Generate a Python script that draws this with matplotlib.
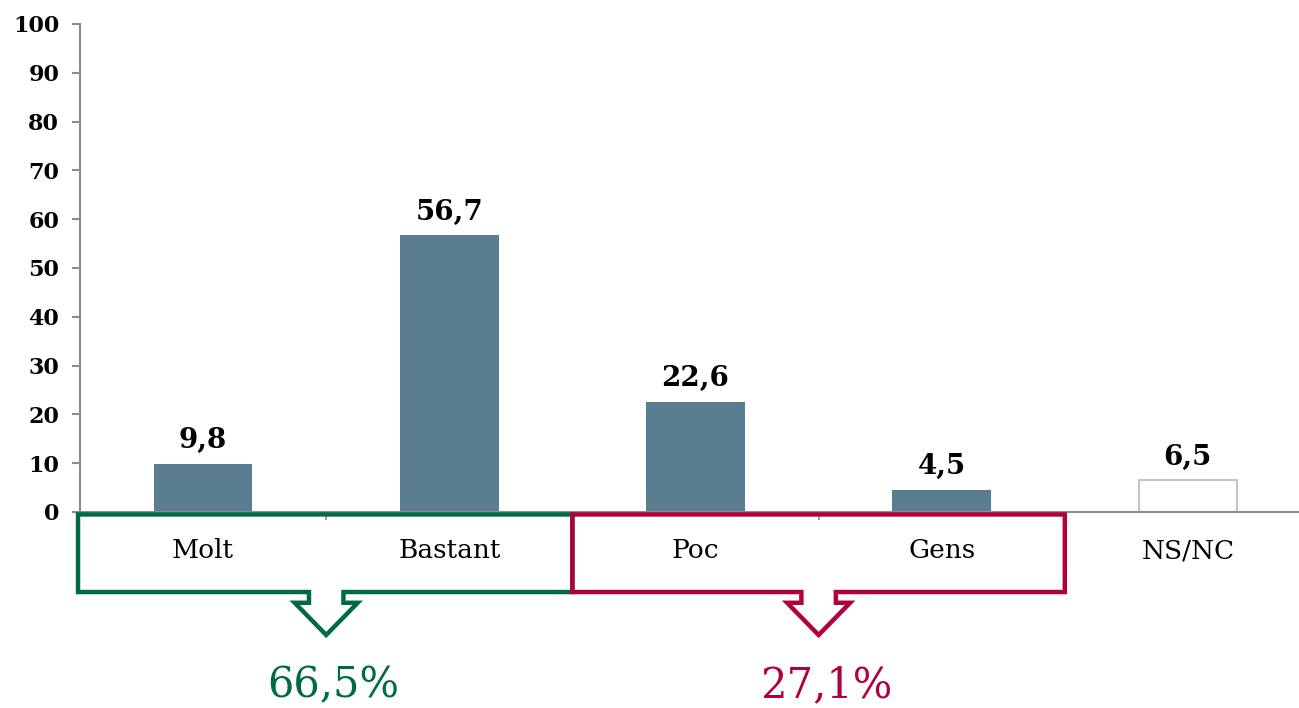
import matplotlib
matplotlib.use("Agg")
import matplotlib.pyplot as plt
from matplotlib.patches import Polygon
from matplotlib.transforms import blended_transform_factory

categories = ["Molt", "Bastant", "Poc", "Gens", "NS/NC"]
values = [9.8, 56.7, 22.6, 4.5, 6.5]
value_labels = ["9,8", "56,7", "22,6", "4,5", "6,5"]
group_labels = ["66,5%", "27,1%"]
yticks = [0, 10, 20, 30, 40, 50, 60, 70, 80, 90, 100]

BAR = "#5b7d91"
GREEN = "#006a48"
RED = "#b0003e"
GRAY = "#8c8c8c"

plt.rcParams['font.family'] = ['DejaVu Serif']

W, H = 1299, 708
fig = plt.figure(figsize=(W / 100, H / 100), dpi=100)
left, right, bottom, top = 80, 1311, 512, 24
ax = fig.add_axes([left / W, (H - bottom) / H, (right - left) / W, (bottom - top) / H])

x = list(range(len(categories)))
for i, v in enumerate(values):
    if categories[i] == "NS/NC":
        ax.bar(i, v, width=0.4, color="white", edgecolor="#c4c4c4", linewidth=1.5, zorder=2)
    else:
        ax.bar(i, v, width=0.4, color=BAR, zorder=2)
    ax.annotate(value_labels[i], (i, v), xytext=(0, 7), textcoords="offset points",
                ha="center", va="bottom", fontsize=20, fontweight="bold")

ax.set_xlim(-0.5, len(categories) - 0.5)
ax.set_ylim(0, 100)
ax.set_yticks(yticks)
ax.set_yticklabels([str(t) for t in yticks], fontsize=16, fontweight="bold")
ax.tick_params(axis="y", length=6, color=GRAY, width=1.5, pad=9)

ax.set_xticks(x)
ax.set_xticklabels(categories, fontsize=19)
ax.tick_params(axis="x", which="major", length=0, pad=19)
ax.set_xticks([0.5, 1.5, 2.5, 3.5], minor=True)
ax.tick_params(axis="x", which="minor", length=6, color=GRAY, width=1.2)

for s in ["top", "right"]:
    ax.spines[s].set_visible(False)
for s in ["left", "bottom"]:
    ax.spines[s].set_color(GRAY)
    ax.spines[s].set_linewidth(1.5)

tr = blended_transform_factory(ax.transData, ax.transAxes)

def bracket(x0, x1, xc, color, label):
    yt, yb, yn, ytip = -0.005, -0.164, -0.186, -0.252
    sw, hw = 0.07, 0.128
    pts = [(x0, yt), (x1, yt), (x1, yb), (xc + sw, yb), (xc + sw, yn), (xc + hw, yn),
           (xc, ytip), (xc - hw, yn), (xc - sw, yn), (xc - sw, yb), (x0, yb)]
    poly = Polygon(pts, closed=True, fill=False, edgecolor=color, linewidth=3.2,
                   transform=tr, clip_on=False, joinstyle="miter", zorder=5)
    ax.add_patch(poly)
    ax.text(xc + 0.03, -0.355, label, transform=tr, ha="center", va="center",
            fontsize=30, color=color)

bracket(-0.508, 1.5, 0.5, GREEN, group_labels[0])
bracket(1.5, 3.5, 2.5, RED, group_labels[1])

fig.savefig("out.png", dpi=100)
